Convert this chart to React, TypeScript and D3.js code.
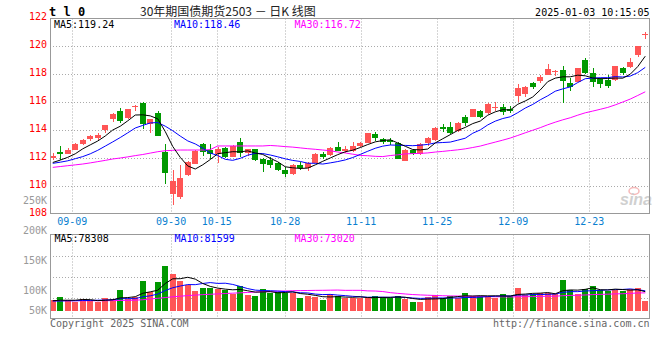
import React from "react";
import * as d3 from "d3";

const dates = [
  "09-04","09-05","09-06","09-09","09-10","09-11","09-12","09-13","09-18","09-19","09-20","09-23","09-24","09-25","09-26","09-27","09-30",
  "10-08","10-09","10-10","10-11","10-14","10-15","10-16","10-17","10-18","10-21","10-22","10-23","10-24","10-25","10-28","10-29","10-30","10-31",
  "11-01","11-04","11-05","11-06","11-07","11-08","11-11","11-12","11-13","11-14","11-15","11-18","11-19","11-20","11-21","11-22","11-25","11-26","11-27","11-28","11-29",
  "12-02","12-03","12-04","12-05","12-06","12-09","12-10","12-11","12-12","12-13","12-16","12-17","12-18","12-19","12-20","12-23","12-24","12-25","12-26","12-27","12-30","12-31",
  "01-02","01-03"
];
const tickDates = ["09-09","09-30","10-15","10-28","11-11","11-25","12-09","12-23"];

const opens = [
  112.02,112.45,112.31,112.57,113.0,113.36,113.43,114.0,114.76,115.36,114.88,115.67,115.95,114.41,115.21,112.45,109.43,
  109.24,110.79,111.6,112.98,112.57,112.26,112.74,112.1,113.12,112.38,112.62,111.93,111.86,111.62,111.14,110.83,111.5,111.26,
  111.67,112.26,112.21,112.76,112.5,112.52,112.88,113.1,113.69,113.36,113.29,113.05,111.81,112.57,112.29,113.07,113.29,114.24,114.19,113.93,114.9,
  114.95,115.36,115.24,115.55,115.62,115.48,116.45,116.57,117.33,117.52,117.93,118.14,118.29,117.38,117.45,119.0,118.1,117.62,117.57,117.57,118.4,118.52,
  119.36,120.76
];
const highs = [
  112.38,112.86,112.69,113.05,113.38,113.64,113.81,114.36,115.19,115.57,115.5,115.81,116.0,114.76,115.36,113.0,111.14,
  111.5,111.81,112.57,113.05,112.98,112.76,112.81,112.93,113.45,112.67,112.67,112.02,112.07,111.69,111.38,111.55,111.74,111.69,
  112.33,112.43,112.76,113.14,112.86,113.12,113.12,113.81,113.86,113.43,113.43,113.12,112.64,112.64,113.05,113.52,114.19,114.43,114.6,114.55,115.07,
  115.52,115.43,115.9,115.98,115.86,115.71,117.29,117.14,117.45,117.93,118.71,118.29,118.57,117.69,118.45,119.17,118.45,117.69,117.93,118.57,118.52,119.12,
  120.0,121.02
];
const lows = [
  111.86,111.86,112.26,112.57,112.93,113.21,113.29,113.81,114.6,114.52,114.79,115.33,114.1,113.81,113.59,110.14,108.64,
  109.07,110.71,111.55,112.14,111.9,111.67,112.0,112.05,112.1,112.14,111.81,111.02,111.29,111.1,110.62,110.79,111.14,111.07,
  111.62,111.93,112.14,112.5,112.33,112.45,112.76,113.05,113.24,113.0,112.93,111.93,111.76,112.21,112.21,112.88,113.24,113.88,113.71,113.88,114.29,
  114.9,114.83,115.17,115.36,115.05,115.24,115.98,116.33,116.9,117.38,117.93,117.86,115.95,116.81,117.4,117.98,117.1,116.98,116.98,117.5,117.93,118.4,
  119.24,120.48
];
const closes = [
  112.16,112.26,112.57,113.0,113.29,113.57,113.64,114.36,115.14,114.64,115.5,115.71,114.43,114.76,113.59,110.95,110.38,
  110.55,111.69,112.5,112.45,112.26,112.64,112.05,112.86,112.38,112.62,111.86,111.55,111.48,111.14,110.83,111.5,111.31,111.62,
  112.29,112.1,112.69,112.5,112.64,112.86,113.05,113.76,113.45,113.12,113.12,111.93,112.57,112.29,112.98,113.43,114.12,114.05,113.76,114.48,114.52,
  115.48,114.95,115.86,115.67,115.31,115.36,116.98,117.05,117.1,117.81,118.33,118.24,117.52,117.1,118.4,118.1,117.45,117.29,117.14,118.57,118.05,118.88,
  120.0,120.86
];
const volumes = [
  44000,57700,44000,37000,48000,40000,37000,52000,47000,86500,47000,55000,122000,77000,119500,185000,152000,
  123600,106000,82400,94800,92300,88200,85300,68800,101800,64700,60600,89400,74200,78300,71700,74200,53600,60600,
  55200,44000,68800,60600,51000,51000,53600,53600,60600,55200,51000,60600,48200,35800,35800,57700,64700,53600,60600,53600,72900,
  60600,60600,57700,53600,68800,60600,93500,64700,68800,72900,72900,68800,126500,85300,68800,89400,101800,85300,81200,85300,81200,89400,
  93500,41200
];

// moving-average values read from the picture where the chart's earlier history is not shown
const ma5Head = [111.68, 111.85, 112.05, 112.3];
const ma10Head = [111.62, 111.7, 111.8, 111.95, 112.1, 112.3, 112.55, 112.85, 113.15];
const ma30Head = [
  111.33,111.39,111.45,111.51,111.57,111.65,111.74,111.83,111.93,112.0,112.08,112.17,112.25,112.35,112.45,
  112.52,112.55,112.57,112.57,112.57,112.57,112.6,112.86,112.86,112.86,112.86,112.86,112.86,112.86
];
const vma5Head = [41000, 43000, 43000, 43000];
const vma10Head = [40000, 40000, 41000, 41000, 42000, 42000, 43000, 44000, 45000];
const vma30Head = [
  41000,41000,41000,41000,41000,41000,41000,41000,41500,42000,42500,43000,45000,48000,51000,
  54000,57000,59500,62000,64000,66000,67500,69000,70500,72000,73500,75000,76500,78000
];

const priceTicks = [108, 110, 112, 114, 116, 118, 120, 122];
const priceGrid = [110, 112, 114, 116, 118, 120];
const volTicks = [50000, 100000, 150000, 200000, 250000];
const volTickLabels = ["50K", "100K", "150K", "200K", "250K"];

const RED = "#ff5555";
const GREEN = "#009900";
const MONO = "'DejaVu Sans Mono', monospace";

function movingAvg(values: number[], n: number, head: number[]) {
  return values.map((v, i) => (i < n - 1 ? head[i] : (d3.mean(values.slice(i - n + 1, i + 1)) as number)));
}

export default function App() {
  const L = 50, R = 649.5, T = 18.5, B = 213.5;
  const VT = 234.5, VB = 318.5, VBASE = 310.7;

  const xBand = d3.scaleBand<string>().domain(dates).range([49, 649]);
  const xGrid = d3.scalePoint<string>().domain(dates).range([49.5, 650]);
  const y = d3.scaleLinear().domain([108, 122]).range([214, 18]);
  const yv = d3.scaleLinear().domain([0, 313000]).range([VBASE, VT]);
  const yvLabel = d3.scaleLinear().domain([100000, 250000]).range([290.2, 200.8]);

  const cx = (i: number) => (xBand(dates[i]) as number) + xBand.bandwidth() / 2;

  const ma5 = movingAvg(closes, 5, ma5Head);
  const ma10 = movingAvg(closes, 10, ma10Head);
  const ma30 = movingAvg(closes, 30, ma30Head);
  const vma5 = movingAvg(volumes, 5, vma5Head);
  const vma10 = movingAvg(volumes, 10, vma10Head);
  const vma30 = movingAvg(volumes, 30, vma30Head);

  const priceLine = d3.line<number>().x((_, i) => cx(i)).y((d) => y(d));
  const volLine = d3.line<number>().x((_, i) => cx(i)).y((d) => yv(d));

  const bodyW = 6;

  return (
    <svg width={660} height={360} style={{ position: "absolute", left: 0, top: 0, background: "#fff" }}
      fontFamily={MONO}>
      {/* header */}
      <text x={49} y={16} fontSize={12} fontWeight="bold" fill="#000" fontFamily={MONO}>t l 0</text>
      <text x={140} y={16} fontSize={12} fill="#222" fontFamily="'Noto Sans CJK SC', sans-serif">
        30年期国债期货2503 － 日K 线图
      </text>
      <text x={649.5} y={15.5} fontSize={10} fill="#000" textAnchor="end">2025-01-03 10:15:05</text>

      {/* main grid */}
      {priceGrid.map((v) => (
        <line key={"hg" + v} x1={L} x2={R} y1={y(v)} y2={y(v)} stroke="#aaa" strokeDasharray="1,2" shapeRendering="crispEdges" />
      ))}
      {tickDates.map((d) => (
        <line key={"vg" + d} x1={Math.round(xGrid(d) as number) + 0.5} x2={Math.round(xGrid(d) as number) + 0.5}
          y1={T} y2={B} stroke="#aaa" strokeDasharray="1,2" />
      ))}

      {/* watermark */}
      <g opacity={0.55}>
        <ellipse cx={634} cy={191} rx={5} ry={3.5} fill="none" stroke="#f08080" strokeWidth={1.5} />
        <text x={620} y={205} fontSize={16} fontStyle="italic" fontWeight="bold" fill="#aaa" fontFamily="Arial, 'Liberation Sans', sans-serif">sina</text>
      </g>

      {/* candles */}
      {dates.map((d, i) => {
        const up = closes[i] >= opens[i];
        const col = up ? RED : GREEN;
        const x0 = Math.round(cx(i) - bodyW / 2);
        const top = Math.round(y(Math.max(opens[i], closes[i])));
        const bot = Math.round(y(Math.min(opens[i], closes[i])));
        return (
          <g key={"c" + d} shapeRendering="crispEdges">
            <line x1={x0 + 3} x2={x0 + 3} y1={y(highs[i])} y2={y(lows[i])} stroke={col} />
            <rect x={x0} y={top} width={bodyW} height={Math.max(1, bot - top)} fill={col} />
          </g>
        );
      })}

      {/* MA lines */}
      <path d={priceLine(ma30) || ""} fill="none" stroke="#ff00ff" strokeWidth={1} />
      <path d={priceLine(ma10) || ""} fill="none" stroke="#0000ff" strokeWidth={1} />
      <path d={priceLine(ma5) || ""} fill="none" stroke="#000" strokeWidth={1} />

      {/* main border */}
      <rect x={L} y={T} width={R - L} height={B - T} fill="none" stroke="#999" shapeRendering="crispEdges" />

      {/* price labels */}
      {priceTicks.map((v) => (
        <text key={"pl" + v} x={47} y={y(v) - 1.5} dy="0.35em" fontSize={10} fill="#ff0000" textAnchor="end">{v}</text>
      ))}

      {/* legends */}
      <text x={54} y={24} dy="0.35em" fontSize={10} fill="#000">MA5:119.24</text>
      <text x={174} y={24} dy="0.35em" fontSize={10} fill="#0000ff">MA10:118.46</text>
      <text x={294.5} y={24} dy="0.35em" fontSize={10} fill="#ff00ff">MA30:116.72</text>

      {/* date labels */}
      {tickDates.map((d) => (
        <text key={"dl" + d} x={xGrid(d) as number} y={221.7} dy="0.35em" fontSize={10} fill="#0a7fd0" textAnchor="middle">{d}</text>
      ))}

      {/* volume panel */}
      {[0.25, 0.5, 0.75].map((f) => (
        <line key={"vh" + f} x1={L} x2={R} y1={Math.round(VT + (VB - VT) * f) + 0.5} y2={Math.round(VT + (VB - VT) * f) + 0.5}
          stroke="#aaa" strokeDasharray="1,2" />
      ))}
      {tickDates.map((d) => (
        <line key={"vvg" + d} x1={Math.round(xGrid(d) as number) + 0.5} x2={Math.round(xGrid(d) as number) + 0.5}
          y1={VT} y2={VB} stroke="#aaa" strokeDasharray="1,2" />
      ))}
      {dates.map((d, i) => {
        const up = closes[i] >= opens[i];
        const x0 = Math.round(cx(i) - bodyW / 2);
        const top = Math.round(yv(volumes[i]));
        return (
          <rect key={"v" + d} x={x0} y={top} width={bodyW} height={Math.round(VBASE) - top}
            fill={up ? RED : GREEN} shapeRendering="crispEdges" />
        );
      })}
      <path d={volLine(vma30) || ""} fill="none" stroke="#ff00ff" strokeWidth={1} />
      <path d={volLine(vma10) || ""} fill="none" stroke="#0000ff" strokeWidth={1} />
      <path d={volLine(vma5) || ""} fill="none" stroke="#000" strokeWidth={1} />
      <rect x={L} y={VT} width={R - L} height={VB - VT} fill="none" stroke="#999" shapeRendering="crispEdges" />

      {volTicks.map((v, i) => (
        <text key={"vl" + v} x={47} y={Math.min(yvLabel(v), 310.2)} dy="0.35em" fontSize={10} fill="#999" textAnchor="end">
          {volTickLabels[i]}
        </text>
      ))}

      <text x={54.5} y={238.3} dy="0.35em" fontSize={10} fill="#000">MA5:78308</text>
      <text x={174.5} y={238.3} dy="0.35em" fontSize={10} fill="#0000ff">MA10:81599</text>
      <text x={294.5} y={238.3} dy="0.35em" fontSize={10} fill="#ff00ff">MA30:73020</text>

      {/* footer */}
      <text x={50} y={323.7} dy="0.35em" fontSize={10} fill="#666">Copyright 2025 SINA.COM</text>
      <text x={649.5} y={323.7} dy="0.35em" fontSize={10} fill="#666" textAnchor="end">http://finance.sina.com.cn</text>
    </svg>
  );
}
